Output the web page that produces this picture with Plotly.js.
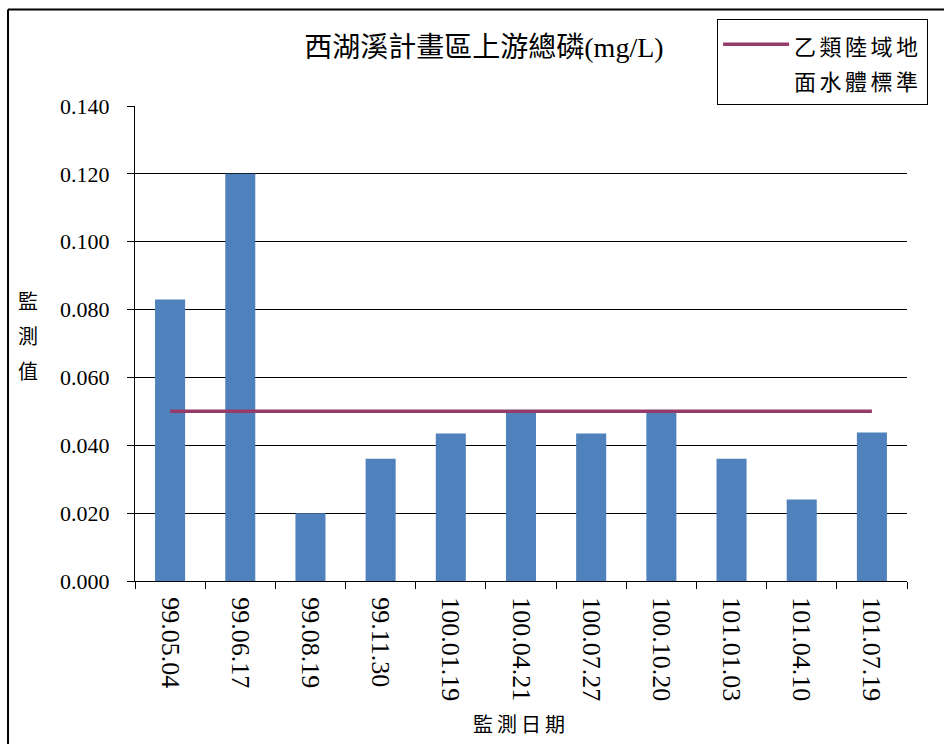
<!DOCTYPE html>
<html>
<head>
<meta charset="utf-8">
<script src="https://cdn.plot.ly/plotly-3.0.1.min.js"></script>
<style>
html,body{margin:0;padding:0;background:#fff;}
#chart{width:944px;height:744px;}
.legendtext{letter-spacing:3.5px;}
.xtitle{letter-spacing:4px;}
</style>
</head>
<body>
<div id="chart"></div>
<script>
var dates = ["99.05.04","99.06.17","99.08.19","99.11.30","100.01.19","100.04.21","100.07.27","100.10.20","101.01.03","101.04.10","101.07.19"];
var tpValues = [0.083,0.120,0.020,0.036,0.0435,0.050,0.0435,0.050,0.036,0.024,0.0438];
var standardValues = [0.05,0.05,0.05,0.05,0.05,0.05,0.05,0.05,0.05,0.05,0.05];
var yTickVals = [0,0.02,0.04,0.06,0.08,0.1,0.12,0.14];
var yTickText = ["0.000","0.020","0.040","0.060","0.080","0.100","0.120","0.140"];
var yTitleChars = ["監","測","值"];
var legendLines = ["乙類陸域地","面水體標準"];

var FONT = "Liberation Serif, Noto Sans CJK TC, serif";

function spaced(lines, px) {
  return lines.map(function (s) { return '<span style="font-size:' + px + 'px">' + s + '</span>'; }).join("<br>");
}

var traces = [
  {
    type: "bar",
    x: dates,
    y: tpValues,
    marker: {color: "#4F81BD"},
    showlegend: false,
    name: "總磷",
    hoverinfo: "x+y"
  },
  {
    type: "scatter",
    mode: "lines",
    x: dates,
    y: standardValues,
    line: {color: "#943B6A", width: 3.5},
    name: spaced(legendLines, 22)
  }
];

var layout = {
  width: 944,
  height: 744,
  margin: {l: 135, r: 37, t: 106, b: 163},
  paper_bgcolor: "#ffffff",
  plot_bgcolor: "#ffffff",
  font: {family: FONT, color: "#000"},
  bargap: 0.572,
  title: {
    text: "西湖溪計畫區上游總磷(mg/L)",
    font: {family: FONT, size: 28, color: "#000"},
    x: 0.452, xref: "paper", xanchor: "center",
    y: 0.936, yref: "container", yanchor: "middle"
  },
  xaxis: {
    type: "category",
    tickangle: 90,
    tickfont: {family: FONT, size: 26, color: "#000"},
    showline: true, linecolor: "#000", linewidth: 1,
    ticks: "outside", ticklen: 7, tickcolor: "#000", tickson: "boundaries",
    ticklabelstandoff: 10,
    showgrid: false,
    title: {text: "監測日期", font: {family: FONT, size: 20, color: "#000"}, standoff: 17}
  },
  yaxis: {
    range: [0, 0.14],
    tickvals: yTickVals,
    ticktext: yTickText,
    tickfont: {family: FONT, size: 22, color: "#000"},
    showline: true, linecolor: "#000", linewidth: 1,
    ticks: "outside", ticklen: 7, tickcolor: "#000",
    ticklabelstandoff: 13,
    showgrid: true, gridcolor: "#000", gridwidth: 1,
    zeroline: false
  },
  annotations: [
    {
      text: spaced(yTitleChars, 20),
      xref: "paper", yref: "paper",
      x: -0.1386, y: 0.5137, xanchor: "center", yanchor: "middle",
      showarrow: false,
      font: {family: FONT, size: 27, color: "#000"}
    }
  ],
  showlegend: true,
  legend: {
    x: 0.754, xanchor: "left",
    y: 1.183, yanchor: "top",
    bgcolor: "#fff",
    bordercolor: "#000", borderwidth: 1,
    font: {family: FONT, size: 27, color: "#000"},
    itemwidth: 66,
    valign: "top"
  },
  shapes: [
    {type: "line", xref: "paper", yref: "paper", x0: -0.1645, x1: -0.1645, y0: 1.203, y1: -0.4, line: {color: "#000", width: 2}},
    {type: "line", xref: "paper", yref: "paper", x0: -0.1645, x1: 1.1, y0: 1.203, y1: 1.203, line: {color: "#000", width: 2}}
  ]
};

Plotly.newPlot("chart", traces, layout, {displayModeBar: false, staticPlot: true});
</script>
</body>
</html>
